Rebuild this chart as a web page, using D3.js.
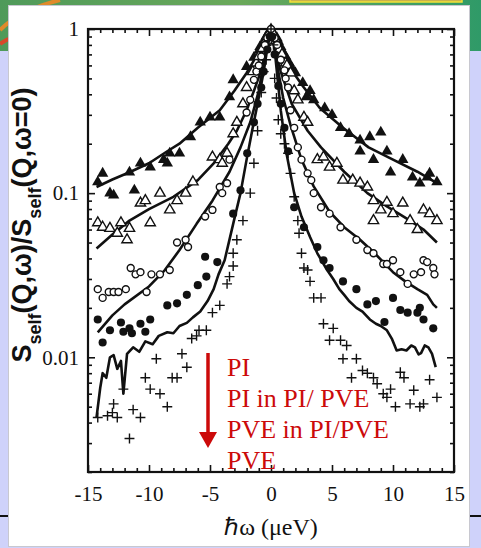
<!DOCTYPE html>
<html>
<head>
<meta charset="utf-8">
<script src="https://cdn.jsdelivr.net/npm/d3@7"></script>
<style>
  body { margin: 0; background: #cfd2fa; }
  svg { display: block; }
</style>
</head>
<body>
<div id="chart"></div>
<script>
// ---- data: [hbar omega (ueV), S(Q,w)/S(Q,0)] ----
const filledTriangles = [
  [-14.2,0.117],[-13.8,0.132],[-13.2,0.10],[-12.9,0.097],[-11.6,0.134],[-11.2,0.104],
  [-10.7,0.152],[-9.9,0.144],[-8.8,0.16],[-8.5,0.152],[-8.3,0.175],[-7.5,0.175],
  [-6.6,0.22],[-5.8,0.27],[-5.0,0.29],[-4.2,0.29],[-3.4,0.385],[-3.1,0.49],
  [-2.0,0.59],[-1.4,0.67],[-1.0,0.74],[-0.7,0.8],[-0.9,0.78],[-0.5,0.87],[-0.4,0.9],
  [-0.2,0.95],[0,1.0],[0.3,0.92],[0.5,0.88],[0.6,0.84],[0.8,0.78],[1.0,0.72],
  [1.2,0.68],[1.5,0.62],[1.7,0.58],[2.0,0.54],[2.6,0.47],
  [2.9,0.385],[3.2,0.42],[3.5,0.37],[4.4,0.33],[5.0,0.30],[5.7,0.25],
  [6.4,0.23],[7.3,0.21],[7.3,0.18],[8.1,0.22],[8.4,0.16],[9.0,0.235],
  [9.5,0.18],[9.8,0.134],[10.8,0.16],[11.6,0.125],[12.2,0.115],[12.8,0.125],
  [13.0,0.132],[13.6,0.117]
];
const openTriangles = [
  [-14.2,0.066],[-13.8,0.062],[-13.2,0.061],[-12.6,0.057],[-12.3,0.066],[-11.8,0.052],
  [-11.6,0.061],[-10.7,0.087],[-10.3,0.09],[-9.9,0.066],[-9.1,0.10],[-8.3,0.079],
  [-7.7,0.09],[-7.0,0.10],[-6.4,0.117],[-4.8,0.166],[-4.2,0.16],[-4.0,0.152],
  [-3.6,0.175],[-3.1,0.23],[-2.8,0.27],[-2.3,0.35],[-2.0,0.44],[-1.5,0.55],
  [-1.2,0.62],[-1.0,0.68],[-0.7,0.76],[-0.5,0.83],[-0.3,0.9],[0.2,0.93],[0.4,0.85],
  [0.7,0.75],[0.9,0.7],[1.2,0.62],[1.3,0.6],[1.6,0.54],
  [1.9,0.42],[2.2,0.37],[2.7,0.29],[3.0,0.27],[3.8,0.16],[4.3,0.166],
  [4.8,0.144],[5.4,0.152],[5.9,0.12],[6.7,0.12],[7.3,0.115],[7.9,0.109],
  [8.4,0.09],[8.4,0.068],[9.0,0.079],[9.5,0.088],[10.0,0.075],[10.8,0.087],
  [11.4,0.068],[12.0,0.06],[12.5,0.079],[13.0,0.075],[13.6,0.068]
];
const openCircles = [
  [-14.2,0.026],[-13.8,0.023],[-13.3,0.025],[-12.9,0.025],[-12.5,0.025],[-11.9,0.026],
  [-11.5,0.035],[-11.1,0.032],[-10.7,0.033],[-10.2,0.025],[-9.8,0.032],[-9.1,0.032],
  [-8.3,0.034],[-7.7,0.05],[-7.0,0.052],[-6.8,0.047],[-5.4,0.072],[-4.8,0.079],
  [-4.2,0.109],[-4.0,0.10],[-3.6,0.115],[-3.4,0.16],[-2.0,0.31],[-1.7,0.37],
  [-1.4,0.49],[-1.2,0.55],[-1.0,0.6],[-0.8,0.68],[-0.5,0.8],[-0.3,0.88],[0,1.0],
  [0.3,0.88],[0.5,0.8],[0.8,0.65],[1.1,0.56],[1.2,0.5],
  [1.4,0.44],[1.6,0.32],[1.9,0.25],[2.2,0.19],[2.5,0.16],[3.0,0.132],
  [3.3,0.12],[3.5,0.10],[4.1,0.082],[4.8,0.075],[5.7,0.062],[7.0,0.052],
  [7.9,0.045],[8.4,0.043],[9.2,0.037],[9.5,0.037],[10.0,0.039],[10.6,0.033],
  [11.2,0.028],[11.7,0.032],[12.3,0.033],[12.5,0.039],[12.8,0.038],[13.3,0.035],
  [13.4,0.032]
];
const filledCircles = [
  [-14.2,0.017],[-13.8,0.0123],[-13.2,0.0146],[-12.3,0.0163],[-12.1,0.0143],[-11.6,0.015],
  [-11.4,0.014],[-10.7,0.016],[-10.3,0.0143],[-9.9,0.017],[-8.5,0.0207],[-7.7,0.0213],
  [-6.9,0.024],[-6.0,0.0275],[-5.4,0.041],[-5.3,0.031],[-4.4,0.038],[-3.1,0.075],
  [-2.5,0.104],[-1.95,0.175],[-1.4,0.27],[-1.1,0.35],[-0.8,0.44],[-0.6,0.55],[-0.3,0.75],
  [-0.1,0.9],[0.1,0.9],[0.3,0.7],[0.6,0.45],
  [0.8,0.35],[1.1,0.25],[1.4,0.18],[1.9,0.082],[2.7,0.062],[3.8,0.047],[4.3,0.039],
  [4.8,0.035],[5.9,0.029],[7.0,0.026],[7.9,0.021],[8.6,0.022],[9.3,0.0164],
  [10.0,0.023],[10.6,0.0194],[11.2,0.0187],[12.0,0.0187],[12.2,0.02],[12.5,0.017],
  [13.3,0.015]
];
const crosses = [
  [-14.2,0.0043],[-13.4,0.0044],[-13.0,0.0046],[-12.9,0.0052],[-12.6,0.0043],[-12.1,0.0064],
  [-11.6,0.0032],[-11.3,0.0048],[-10.7,0.0043],[-10.3,0.0075],[-9.9,0.0064],[-9.4,0.0098],
  [-9.1,0.006],[-8.5,0.005],[-8.1,0.0075],[-7.7,0.0075],[-7.3,0.0105],[-6.9,0.0087],
  [-6.5,0.013],[-6.1,0.0135],[-5.9,0.0146],[-5.3,0.0146],[-4.8,0.0187],[-4.2,0.0207],
  [-3.6,0.028],[-3.4,0.031],[-3.1,0.036],[-3.1,0.043],[-2.8,0.052],[-2.3,0.068],
  [-1.7,0.10],[-1.4,0.152],[-1.1,0.24],[-0.8,0.41],[-0.6,0.55],[-0.4,0.65],[-0.2,0.85],
  [0,1.0],[0.2,0.8],[0.3,0.5],[0.45,0.38],[0.6,0.28],[0.8,0.23],[1.1,0.2],[1.4,0.175],
  [1.6,0.132],[1.9,0.095],
  [2.2,0.068],[2.3,0.057],[2.5,0.043],[2.7,0.035],[3.0,0.034],[3.2,0.029],
  [3.5,0.023],[4.1,0.023],[4.3,0.016],[4.8,0.0127],[5.1,0.015],[5.7,0.0127],
  [5.9,0.0098],[6.2,0.0118],[6.6,0.0075],[7.0,0.0098],[7.5,0.0083],[7.9,0.008],
  [8.4,0.0075],[8.7,0.0069],[9.2,0.006],[9.5,0.0057],[9.8,0.0064],[10.2,0.005],
  [10.6,0.0081],[10.9,0.0075],[11.4,0.0052],[11.7,0.0063],[12.2,0.005],[12.5,0.0052],
  [13.0,0.0073],[13.6,0.0057]
];

// fitted curves (solid lines)
const fitFilledTriangles = [
  [-14.3,0.109],[-13,0.121],[-11.6,0.134],[-10,0.152],[-8.5,0.18],[-7.5,0.2],[-6,0.25],
  [-4.2,0.32],[-3,0.42],[-2,0.54],[-1,0.72],[-0.4,0.88],[0,1],[0.4,0.86],[1,0.7],
  [2,0.52],[2.6,0.45],[4,0.33],[5.9,0.25],[8,0.19],[10,0.16],[12,0.135],[13.6,0.115]
];
const fitOpenTriangles = [
  [-14.3,0.046],[-13,0.056],[-11.6,0.068],[-10,0.08],[-8,0.095],[-6,0.12],[-4.7,0.152],
  [-3.5,0.2],[-2.8,0.24],[-2,0.32],[-1.4,0.42],[-0.8,0.56],[-0.3,0.8],[0,1],[0.3,0.78],
  [0.8,0.55],[1.7,0.35],[3,0.24],[4.1,0.19],[6,0.135],[7.9,0.1],[9.5,0.083],
  [11.4,0.068],[12.5,0.06],[13.6,0.05]
];
const fitOpenCircles = [
  [-14.2,0.0142],[-13,0.018],[-12,0.021],[-10,0.027],[-8.7,0.034],[-7.5,0.045],[-6.1,0.065],
  [-4.8,0.09],[-3.4,0.135],[-2.5,0.19],[-1.7,0.27],[-1,0.42],[-0.6,0.62],[-0.2,0.88],[0,1],
  [0.2,0.85],[0.6,0.55],[1,0.38],[1.6,0.26],[2.5,0.16],[3.5,0.11],[4.8,0.077],[6,0.062],
  [7.3,0.052],[8.5,0.043],[10,0.033],[11,0.029],[12,0.026],[12.8,0.024],[13.3,0.021],[13.6,0.02]
];
const fitFilledCircles = [
  [-14.3,0.0043],[-14.0,0.0065],[-13.8,0.008],[-13.5,0.0075],[-13.2,0.01],[-12.9,0.0103],
  [-12.6,0.0085],[-12.3,0.0095],[-12.1,0.006],[-11.8,0.0105],[-11.3,0.0115],[-10.8,0.0108],
  [-10.3,0.0125],[-9.7,0.012],[-9.2,0.0135],[-8.5,0.0142],[-8.0,0.014],[-7.5,0.0155],
  [-6.9,0.0162],[-6.4,0.0175],[-5.8,0.019],[-5.2,0.022],[-4.7,0.026],[-4.3,0.032],
  [-3.8,0.039],[-3.1,0.065],[-2.5,0.1],[-2.0,0.16],[-1.5,0.25],[-1.1,0.35],[-0.6,0.55],
  [-0.2,0.85],[0,1],[0.3,0.75],[0.8,0.32],[1.3,0.17],[1.9,0.1],[2.5,0.072],[3.2,0.054],
  [3.8,0.043],[4.6,0.034],[5.1,0.03],[5.6,0.026],[6.0,0.024],[6.4,0.022],[7.0,0.02],
  [7.5,0.019],[8.1,0.017],[8.6,0.016],[9.0,0.0155],[9.5,0.0146],[9.9,0.013],[10.3,0.011],
  [10.7,0.0112],[11.1,0.011],[11.5,0.0118],[11.8,0.0115],[12.1,0.0104],[12.3,0.0106],
  [12.6,0.0118],[12.9,0.0115],[13.2,0.0105],[13.5,0.0087]
];

const xMajorTicks = [-15, -10, -5, 0, 5, 10, 15];
const yMajorTicks = [0.01, 0.1, 1];
const yTickLabels = ["0.01", "0.1", "1"];
const legendLines = ["PI", "PI in PI/ PVE", "PVE in PI/PVE", "PVE"];

const W = 481, H = 548;
const plot = { left: 88, right: 454, top: 29, bottom: 472 };

const svg = d3.select("#chart").append("svg")
  .attr("width", W).attr("height", H);

/* ---------- slide background ---------- */
const defs = svg.append("defs");
const band = defs.append("linearGradient").attr("id", "band")
  .attr("x1", 0).attr("x2", 1).attr("y1", 0).attr("y2", 0);
band.append("stop").attr("offset", "0%").attr("stop-color", "#4f9a5a");
band.append("stop").attr("offset", "50%").attr("stop-color", "#6aa85a");
band.append("stop").attr("offset", "100%").attr("stop-color", "#2f9a68");

svg.append("rect").attr("width", W).attr("height", H).attr("fill", "#cfd2fa");
svg.append("rect").attr("width", W).attr("height", 51).attr("fill", "url(#band)");
svg.append("path").attr("d", "M0,30 Q20,10 60,0").attr("stroke", "#e08a2a")
  .attr("stroke-width", 4).attr("fill", "none");
svg.append("path").attr("d", "M0,44 Q10,36 30,34").attr("stroke", "#d9482a")
  .attr("stroke-width", 4).attr("fill", "none");
svg.append("rect").attr("x", 290).attr("y", -4).attr("width", 172).attr("height", 6)
  .attr("fill", "#c9b24a").attr("stroke", "#f2e23a").attr("stroke-width", 1.5);
svg.append("line").attr("x1", 0).attr("x2", W).attr("y1", 516).attr("y2", 516)
  .attr("stroke", "#111").attr("stroke-width", 2);
svg.append("rect").attr("x", 8.5).attr("y", 5.5).attr("width", 461).attr("height", 541)
  .attr("fill", "#fff").attr("stroke", "#c8c8d0");

/* ---------- scales ---------- */
const x = d3.scaleLinear().domain([-15, 15]).range([plot.left, plot.right]);
const y = d3.scaleLog().domain([0.002, 1]).range([plot.bottom, plot.top]);

const xMinor = d3.range(-15, 16, 1).filter(v => v % 5 !== 0);
const yMinor = [];
[0.001, 0.01, 0.1].forEach(dec => {
  for (let k = 2; k <= 9; k++) {
    const v = +(k * dec).toPrecision(3);
    if (v >= 0.002 && v < 1) yMinor.push(v);
  }
});

const serif = "'Liberation Serif', 'Times New Roman', serif";

function styleAxis(g) {
  g.select(".domain").remove();
  g.selectAll(".tick line").attr("stroke", "#111").attr("stroke-width", 1.6);
  g.selectAll("text").attr("fill", "#111").style("font-family", serif).style("font-size", "21px");
}

// bottom
svg.append("g").attr("transform", `translate(0,${plot.bottom})`)
  .call(d3.axisBottom(x).tickValues(xMajorTicks).tickSize(-7).tickPadding(14).tickFormat(d => String(d)))
  .call(styleAxis);
svg.append("g").attr("transform", `translate(0,${plot.bottom})`)
  .call(d3.axisBottom(x).tickValues(xMinor).tickSize(-4).tickFormat(""))
  .call(styleAxis);
// top
svg.append("g").attr("transform", `translate(0,${plot.top})`)
  .call(d3.axisTop(x).tickValues(xMajorTicks).tickSize(-7).tickFormat(""))
  .call(styleAxis);
svg.append("g").attr("transform", `translate(0,${plot.top})`)
  .call(d3.axisTop(x).tickValues(xMinor).tickSize(-4).tickFormat(""))
  .call(styleAxis);
// left
svg.append("g").attr("transform", `translate(${plot.left},0)`)
  .call(d3.axisLeft(y).tickValues(yMajorTicks).tickSize(-7).tickPadding(9)
    .tickFormat((d, i) => yTickLabels[i]))
  .call(styleAxis);
svg.append("g").attr("transform", `translate(${plot.left},0)`)
  .call(d3.axisLeft(y).tickValues(yMinor).tickSize(-4).tickFormat(""))
  .call(styleAxis);
// right
svg.append("g").attr("transform", `translate(${plot.right},0)`)
  .call(d3.axisRight(y).tickValues(yMajorTicks).tickSize(-7).tickFormat(""))
  .call(styleAxis);
svg.append("g").attr("transform", `translate(${plot.right},0)`)
  .call(d3.axisRight(y).tickValues(yMinor).tickSize(-4).tickFormat(""))
  .call(styleAxis);

svg.append("rect")
  .attr("x", plot.left).attr("y", plot.top)
  .attr("width", plot.right - plot.left).attr("height", plot.bottom - plot.top)
  .attr("fill", "none").attr("stroke", "#111").attr("stroke-width", 2.2);

/* ---------- fit lines ---------- */
const line = d3.line().x(d => x(d[0])).y(d => y(d[1]));
[fitFilledTriangles, fitOpenTriangles, fitOpenCircles, fitFilledCircles].forEach(s => {
  svg.append("path").datum(s).attr("d", line)
    .attr("fill", "none").attr("stroke", "#111").attr("stroke-width", 2.6)
    .attr("stroke-linejoin", "round");
});

/* ---------- markers ---------- */
const markerSets = [
  { data: filledTriangles, type: d3.symbolTriangle, size: 56, fill: "#111", stroke: "none" },
  { data: openTriangles, type: d3.symbolTriangle, size: 46, fill: "#fff", stroke: "#111" },
  { data: openCircles, type: d3.symbolCircle, size: 38, fill: "#fff", stroke: "#111" },
  { data: filledCircles, type: d3.symbolCircle, size: 52, fill: "#111", stroke: "none" },
  { data: crosses, type: d3.symbolPlus, size: 34, fill: "none", stroke: "#111" }
];
markerSets.forEach(m => {
  svg.append("g").selectAll("path")
    .data(m.data)
    .join("path")
    .attr("transform", d => `translate(${x(d[0])},${y(d[1])})`)
    .attr("d", d3.symbol().type(m.type).size(m.size))
    .attr("fill", m.fill)
    .attr("stroke", m.stroke)
    .attr("stroke-width", 1.4);
});

/* ---------- axis titles ---------- */
svg.append("text")
  .attr("x", 271).attr("y", 535)
  .attr("text-anchor", "middle")
  .style("font-family", serif).style("font-size", "24px").attr("fill", "#111")
  .text("ℏω (μeV)");

const yTitle = svg.append("text")
  .attr("transform", "translate(31,225) rotate(-90)")
  .attr("text-anchor", "middle")
  .style("font-family", "'Liberation Sans', Arial, sans-serif")
  .style("font-weight", "bold").style("font-size", "27px").attr("fill", "#111");
yTitle.append("tspan").text("S");
yTitle.append("tspan").attr("baseline-shift", "sub").style("font-size", "18px").text("self");
yTitle.append("tspan").text("(Q,ω)/S");
yTitle.append("tspan").attr("baseline-shift", "sub").style("font-size", "18px").text("self");
yTitle.append("tspan").text("(Q,ω=0)");

/* ---------- red annotation ---------- */
const red = "#cc0a0a";
svg.append("line").attr("x1", 208).attr("x2", 208).attr("y1", 353).attr("y2", 434)
  .attr("stroke", red).attr("stroke-width", 3.5);
svg.append("path").attr("d", "M199,432 L217,432 L208,448 Z").attr("fill", red);

svg.append("g").selectAll("text")
  .data(legendLines)
  .join("text")
  .attr("x", 227)
  .attr("y", (d, i) => 376 + i * 31)
  .style("font-family", serif).style("font-size", "26px")
  .attr("fill", red)
  .text(d => d);
</script>
</body>
</html>
